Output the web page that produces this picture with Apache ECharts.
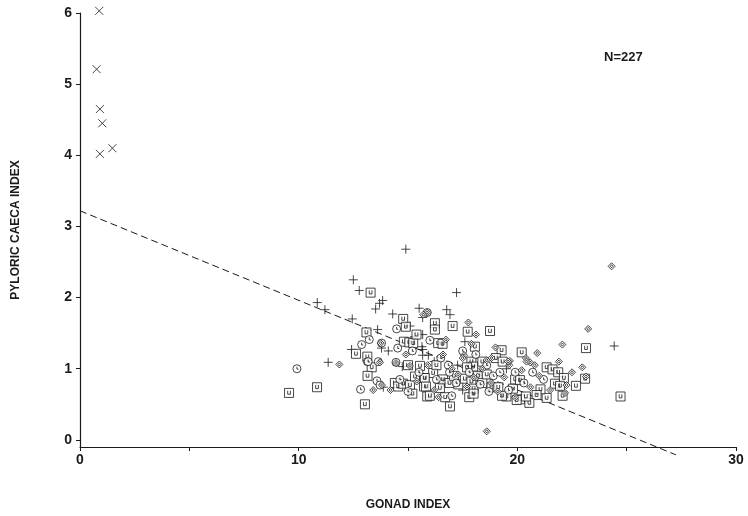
<!DOCTYPE html>
<html><head><meta charset="utf-8">
<script src="https://cdn.jsdelivr.net/npm/echarts@6/dist/echarts.min.js"></script>
<style>html,body{margin:0;padding:0;background:#fff}#c{width:748px;height:516px}</style>
</head><body><div id="c"></div>
<script>
const xTicks = [0, 5, 10, 15, 20, 25, 30];
const xLabels = [0, 10, 20, 30];
const yTicks = [0, 1, 2, 3, 4, 5, 6];
const sampleLabel = 'N=227';
const xName = 'GONAD INDEX';
const yName = 'PYLORIC CAECA INDEX';

const crossPts = [[0.88,6.03],[0.76,5.21],[0.91,4.65],[1.02,4.45],[0.91,4.02],[1.48,4.10]];

const plusPts = [[10.85,1.93],[11.2,1.83],[11.35,1.09],[12.5,2.25],[12.77,2.10],[13.84,1.96],[13.7,1.92],[13.52,1.84],[12.45,1.70],[14.3,1.77],[13.61,1.55],[12.42,1.27],[13.79,1.29],[13.87,0.74],[14.9,2.68],[15.09,1.60],[15.67,1.48],[15.64,1.31],[14.74,1.03],[15.67,1.72],[15.51,1.85],[17.22,2.07],[16.77,1.83],[16.92,1.76],[17.6,1.38],[17.27,1.05],[17.98,1.15],[24.43,1.32],[15.67,1.27],[16.38,0.80],[16.61,0.80],[17.91,1.03],[15.67,1.19],[15.93,1.19],[15.3,1.45],[16.2,1.10],[18.3,0.95],[14.1,1.25],[17.5,0.70],[19.5,1.0]];

const circlePts = [[9.92,1.0],[13.23,1.41],[12.88,1.34],[13.14,1.10],[12.83,0.71],[13.58,0.83],[14.48,1.56],[14.53,1.29],[14.63,0.85],[15.88,1.79],[16.84,1.05],[13.79,1.36],[13.64,1.10],[14.45,1.09],[13.72,0.77],[13.18,1.10],[15.2,1.25],[15.5,0.95],[16.0,1.40],[16.3,0.85],[16.5,1.15],[16.9,0.95],[17.2,0.80],[17.5,1.25],[17.8,0.95],[18.1,1.20],[18.3,0.78],[18.6,1.05],[18.9,0.90],[19.2,0.95],[19.6,0.70],[19.9,0.95],[20.3,0.80],[20.7,0.95],[21.2,0.85],[17.0,0.62],[15.0,0.68],[18.7,0.68]];

const diamondPts = [[11.86,1.06],[13.41,0.70],[13.81,0.77],[13.72,1.09],[13.75,1.36],[14.45,1.08],[15.09,1.04],[15.88,1.79],[15.7,1.76],[17.76,1.65],[18.11,1.48],[16.73,1.41],[23.24,1.56],[22.06,1.34],[20.91,1.22],[20.39,1.15],[20.58,1.09],[20.8,1.05],[22.97,1.02],[23.14,0.89],[22.25,0.77],[22.18,0.66],[18.6,0.12],[19.63,1.05],[19.66,1.11],[18.82,1.15],[18.6,1.12],[17.56,1.19],[17.5,1.15],[24.31,2.44],[19.58,1.10],[20.42,1.10],[14.2,0.70],[14.9,1.20],[15.4,0.82],[15.9,1.05],[16.2,0.70],[16.6,1.20],[17.0,1.00],[17.3,0.92],[17.7,0.75],[18.0,0.88],[18.4,1.00],[18.8,0.80],[19.1,0.68],[19.4,0.88],[19.9,0.60],[20.2,0.98],[20.6,0.74],[21.0,0.90],[21.5,0.70],[21.9,1.10],[22.5,0.95],[16.4,0.60],[19.0,1.30],[17.9,1.35]];

const squarePts = [[9.56,0.66],[10.84,0.74],[13.29,2.07],[13.1,1.51],[12.62,1.21],[13.14,1.17],[13.34,1.02],[13.15,0.90],[13.03,0.50],[14.78,1.70],[14.9,1.59],[14.81,1.38],[15.06,1.37],[15.24,1.36],[15.39,1.48],[15.55,1.04],[14.4,0.80],[14.55,0.75],[14.78,0.79],[15.09,0.77],[15.32,0.89],[15.73,0.87],[15.73,0.75],[15.88,0.61],[16.23,1.64],[16.23,1.55],[17.04,1.60],[17.73,1.52],[18.75,1.53],[16.38,1.36],[16.58,1.35],[18.06,1.31],[23.14,1.29],[19.28,1.26],[20.2,1.23],[21.34,1.02],[21.61,0.99],[21.87,0.95],[22.13,0.87],[23.1,0.86],[22.68,0.76],[22.07,0.62],[24.72,0.61],[21.72,0.79],[21.95,0.76],[21.34,0.59],[21.06,0.71],[20.88,0.63],[20.55,0.52],[20.12,0.57],[20.39,0.61],[19.97,0.56],[19.5,0.61],[19.02,1.15],[19.33,1.10],[17.9,1.10],[17.98,1.03],[15.0,1.05],[16.15,0.94],[15.77,0.87],[16.46,0.73],[15.82,0.75],[16.92,0.47],[16.6,0.85],[16.9,0.80],[17.1,0.90],[17.3,0.78],[17.6,0.86],[17.9,0.82],[18.0,0.72],[18.2,0.90],[18.4,0.80],[18.6,0.92],[18.82,0.74],[19.13,0.74],[19.8,0.72],[19.9,0.85],[17.8,0.60],[18.0,0.65],[16.7,0.60],[16.0,0.62],[19.3,0.62],[20.12,0.84],[17.7,1.02],[16.3,1.05],[15.2,0.65],[18.4,1.10]];

const fitLine = [[0, 3.22], [27.25, -0.21]];

const INK = '#1a1a1a';
const FONT = "'Liberation Sans', Arial, sans-serif";

const symCross = 'path://M0,0L10,10M10,0L0,10';
const symPlus = 'path://M5,0L5,10M0,5L10,5';
const symSquare = 'path://M0,0H10V10H0Z M3.5,2.5V6.5H6.5V2.5';
const symCircle = 'path://M5,0A5,5 0 1 1 5,10A5,5 0 1 1 5,0Z M5,2.5V5.5H7';
const symDiamond = 'path://M5,0L10,4.5L5,9L0,4.5Z M5,2.5L7,4.5L5,6.5L3,4.5Z';

function pts(name, data, symbol, size, fill) {
  return {
    type: 'scatter', name, data, symbol, symbolSize: size, clip: false,
    itemStyle: { color: fill, borderColor: INK, borderWidth: 1 },
    emphasis: { disabled: true }, z: 3
  };
}

const chart = echarts.init(document.getElementById('c'), null, { renderer: 'canvas' });
chart.setOption({
  animation: false,
  backgroundColor: '#fff',
  grid: { left: 80, right: 12, top: 13, bottom: 69, containLabel: false },
  xAxis: {
    type: 'value', min: 0, max: 30, interval: 5,
    name: xName, nameLocation: 'middle', nameGap: 52,
    nameTextStyle: { color: INK, fontFamily: FONT, fontWeight: 'bold', fontSize: 12 },
    axisLine: { onZero: false, lineStyle: { color: INK, width: 1.2 } },
    axisTick: { show: true, length: 4, lineStyle: { color: INK }, customValues: xTicks },
    axisLabel: { color: INK, fontFamily: FONT, fontWeight: 'bold', fontSize: 14, margin: 6, customValues: xLabels },
    splitLine: { show: false }
  },
  yAxis: {
    type: 'value', min: -0.1, max: 6,
    name: yName, nameLocation: 'middle', nameGap: 58, nameRotate: 90,
    nameTextStyle: { color: INK, fontFamily: FONT, fontWeight: 'bold', fontSize: 12 },
    axisLine: { onZero: false, lineStyle: { color: INK, width: 1.2 } },
    axisTick: { show: true, length: 4, lineStyle: { color: INK }, customValues: yTicks },
    axisLabel: { color: INK, fontFamily: FONT, fontWeight: 'bold', fontSize: 14, margin: 8, customValues: yTicks },
    splitLine: { show: false }
  },
  graphic: [{
    type: 'text', left: 604, top: 51,
    style: { text: sampleLabel, fill: INK, font: "bold 13px 'Liberation Sans', Arial, sans-serif" }
  }],
  series: [
    {
      type: 'line', data: fitLine, showSymbol: false, symbol: 'none', clip: false,
      lineStyle: { color: INK, width: 1, type: [7, 4] }, z: 2, silent: true
    },
    pts('cross', crossPts, symCross, 8, 'transparent'),
    pts('plus', plusPts, symPlus, 9, 'transparent'),
    pts('square', squarePts, symSquare, 9, '#fff'),
    pts('circle', circlePts, symCircle, 8, '#fff'),
    pts('diamond', diamondPts, symDiamond, 7, '#fff')
  ]
});
</script></body></html>
